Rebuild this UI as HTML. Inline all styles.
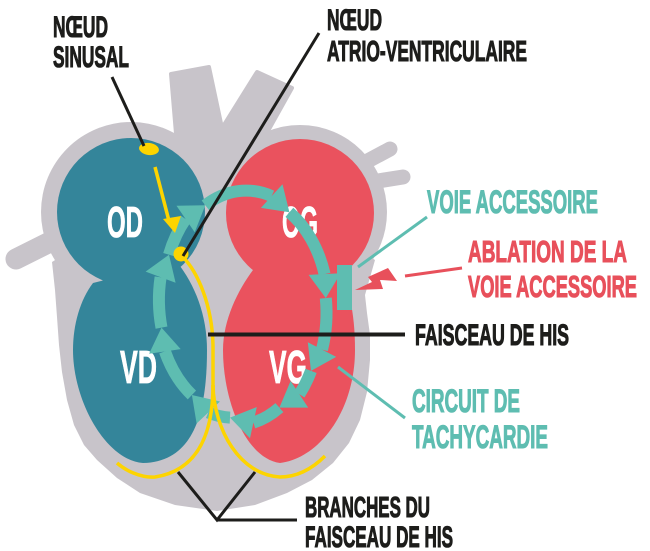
<!DOCTYPE html>
<html>
<head>
<meta charset="utf-8">
<style>
html,body{margin:0;padding:0;background:#fff;}
svg{display:block;}
text{font-family:"Liberation Sans",sans-serif;font-weight:bold;}
</style>
</head>
<body>
<svg width="650" height="551" viewBox="0 0 650 551" xmlns="http://www.w3.org/2000/svg">
<rect width="650" height="551" fill="#ffffff"/>

<!-- gray heart body -->
<g fill="#c8c4ca" stroke="none">
  <line x1="16" y1="259" x2="70" y2="232" stroke="#c8c4ca" stroke-width="21" stroke-linecap="round"/>
  <line x1="362" y1="164" x2="390" y2="149" stroke="#c8c4ca" stroke-width="15" stroke-linecap="round"/>
  <line x1="365" y1="183" x2="403" y2="177" stroke="#c8c4ca" stroke-width="15" stroke-linecap="round"/>
  <polygon points="171,74 209,67 222,128 257,72 292,88 263,140 240,205 182,205" stroke="#c8c4ca" stroke-width="4" stroke-linejoin="round"/>
  <circle cx="131" cy="212" r="90"/>
  <circle cx="300" cy="212" r="87"/>
  <polygon points="52,262 55,290 57,317 59,345 62,372 67,400 74,425 84,445 97,460 117,478 140,493 175,505 217,511 255,505 287,493 312,480 333,463 349,443 360,420 367,392 370,360 370,335 367,313 365,295 375,260 300,212 131,212"/>
</g>

<!-- chambers -->
<g fill="#34859a">
  <circle cx="131" cy="212" r="74"/>
  <path d="M93,283 C80,300 73,325 73,350 C73,400 105,460 143,463 C195,462 207,410 207,350 C207,315 195,285 177,262 Z"/>
</g>
<g fill="#ea525e">
  <circle cx="300" cy="213" r="74"/>
  <path d="M253,270 C238,290 223,320 223,350 C223,400 245,458 280,463 C320,458 355,410 355,350 C355,310 348,285 337,262 Z"/>
</g>

<!-- chamber labels -->
<g fill="#ffffff" stroke="#ffffff" stroke-width="0.8" font-size="44">
  <text x="107" y="237" textLength="36" lengthAdjust="spacingAndGlyphs">OD</text>
  <text x="282" y="237" textLength="36" lengthAdjust="spacingAndGlyphs">OG</text>
  <text x="120" y="383" font-size="46" textLength="37" lengthAdjust="spacingAndGlyphs">VD</text>
  <text x="269" y="383" font-size="46" textLength="38" lengthAdjust="spacingAndGlyphs">VG</text>
</g>

<!-- tachycardia circuit -->
<g fill="none" stroke="#5ebdb1" stroke-width="12" stroke-linecap="butt">
  <path d="M169.0,254.7 A83,113 0 0 1 185.6,219.0"/>
  <path d="M205.3,205.3 A83,113 0 0 1 271.7,196.1"/>
  <path d="M289.4,212.3 A83,113 0 0 1 324.6,274.1"/>
  <path d="M325.8,298.1 A83,113 0 0 1 322.0,349.6"/>
  <path d="M311.0,370.9 A83,113 0 0 1 299.4,394.3"/>
  <path d="M279.4,407.6 A83,113 0 0 1 253.4,422.6"/>
  <path d="M230.0,417.6 A83,113 0 0 1 208.3,412.5"/>
  <path d="M191.9,395.0 A83,113 0 0 1 164.9,351.4"/>
  <path d="M161.5,327.6 A83,113 0 0 1 160.6,277.2"/>
</g>
<g fill="#5ebdb1">
  <polygon points="205.3,205.3 194.7,232.2 176.5,205.8"/>
  <polygon points="289.4,212.3 260.9,207.9 282.5,184.3"/>
  <polygon points="325.8,298.1 308.6,274.9 340.6,273.3"/>
  <polygon points="311.0,370.9 307.8,342.3 336.2,356.9"/>
  <polygon points="279.4,407.6 290.6,381.0 308.2,407.6"/>
  <polygon points="230.0,417.6 256.8,407.0 250.0,438.2"/>
  <polygon points="191.9,395.0 220.0,401.5 196.6,423.5"/>
  <polygon points="161.5,327.6 180.7,349.1 149.1,353.7"/>
  <polygon points="169.0,254.7 175.6,282.8 145.6,271.6"/>
</g>

<!-- conduction system (yellow) -->
<g fill="none" stroke="#fdd400" stroke-width="3.5" stroke-linecap="butt">
  <path d="M182,256 C198,272 212,305 213,345 L213,390"/>
  <path d="M213,385 C213,430 200,470 155,477 C140,478 125,470 117,463"/>
  <path d="M213,385 C214,430 240,475 280,477 C300,477 315,466 325,456"/>
  <line x1="155" y1="167" x2="169" y2="221"/>
</g>
<g fill="#fdd400">
  <ellipse cx="149" cy="149" rx="10" ry="6" transform="rotate(8 149 149)"/>
  <ellipse cx="181" cy="254" rx="7.5" ry="7.5"/>
  <polygon points="163,219 181,216 175,233"/>
</g>

<!-- accessory pathway -->
<rect x="337" y="265" width="15" height="45" fill="#5ebdb1"/>
<polygon points="355,290 372,282 368,277 388,268 397,281 380,280 383,289" fill="#e8505b"/>

<!-- leader lines -->
<g stroke="#1d1d1b" stroke-width="3" fill="none" stroke-linecap="butt">
  <line x1="112" y1="77" x2="144" y2="146"/>
  <line x1="319" y1="33" x2="183" y2="256"/>
  <line x1="208" y1="334.5" x2="405" y2="334.5" stroke-width="4"/>
  <polyline points="178,472 217,520 255,472"/>
  <line x1="217" y1="520" x2="297" y2="520"/>
</g>
<g stroke="#5ebdb1" stroke-width="3">
  <line x1="358" y1="267" x2="427" y2="217"/>
  <line x1="338" y1="367" x2="405" y2="418"/>
</g>
<line x1="405" y1="276" x2="462" y2="268" stroke="#e8505b" stroke-width="3"/>

<!-- labels -->
<g fill="#1d1d1b" stroke="#1d1d1b" stroke-width="1.1">
  <text x="53" y="37" font-size="30" textLength="55" lengthAdjust="spacingAndGlyphs">NŒUD</text>
  <text x="53" y="67" font-size="30" textLength="76" lengthAdjust="spacingAndGlyphs">SINUSAL</text>
  <text x="327" y="30" font-size="30" textLength="55" lengthAdjust="spacingAndGlyphs">NŒUD</text>
  <text x="327" y="61" font-size="29" textLength="200" lengthAdjust="spacingAndGlyphs">ATRIO-VENTRICULAIRE</text>
  <text x="415" y="345" font-size="30" textLength="154" lengthAdjust="spacingAndGlyphs">FAISCEAU DE HIS</text>
  <text x="305" y="517" font-size="29" textLength="125" lengthAdjust="spacingAndGlyphs">BRANCHES DU</text>
  <text x="305" y="547" font-size="30" textLength="148" lengthAdjust="spacingAndGlyphs">FAISCEAU DE HIS</text>
</g>
<g fill="#5ebdb1" stroke="#5ebdb1" stroke-width="1.1">
  <text x="427" y="213" font-size="32" textLength="171" lengthAdjust="spacingAndGlyphs">VOIE ACCESSOIRE</text>
  <text x="412" y="412" font-size="32" textLength="108" lengthAdjust="spacingAndGlyphs">CIRCUIT DE</text>
  <text x="412" y="448" font-size="32" textLength="136" lengthAdjust="spacingAndGlyphs">TACHYCARDIE</text>
</g>
<g fill="#e8505b" stroke="#e8505b" stroke-width="1.1">
  <text x="468" y="262" font-size="31" textLength="159" lengthAdjust="spacingAndGlyphs">ABLATION DE LA</text>
  <text x="468" y="297" font-size="31" textLength="169" lengthAdjust="spacingAndGlyphs">VOIE ACCESSOIRE</text>
</g>
</svg>
</body>
</html>
